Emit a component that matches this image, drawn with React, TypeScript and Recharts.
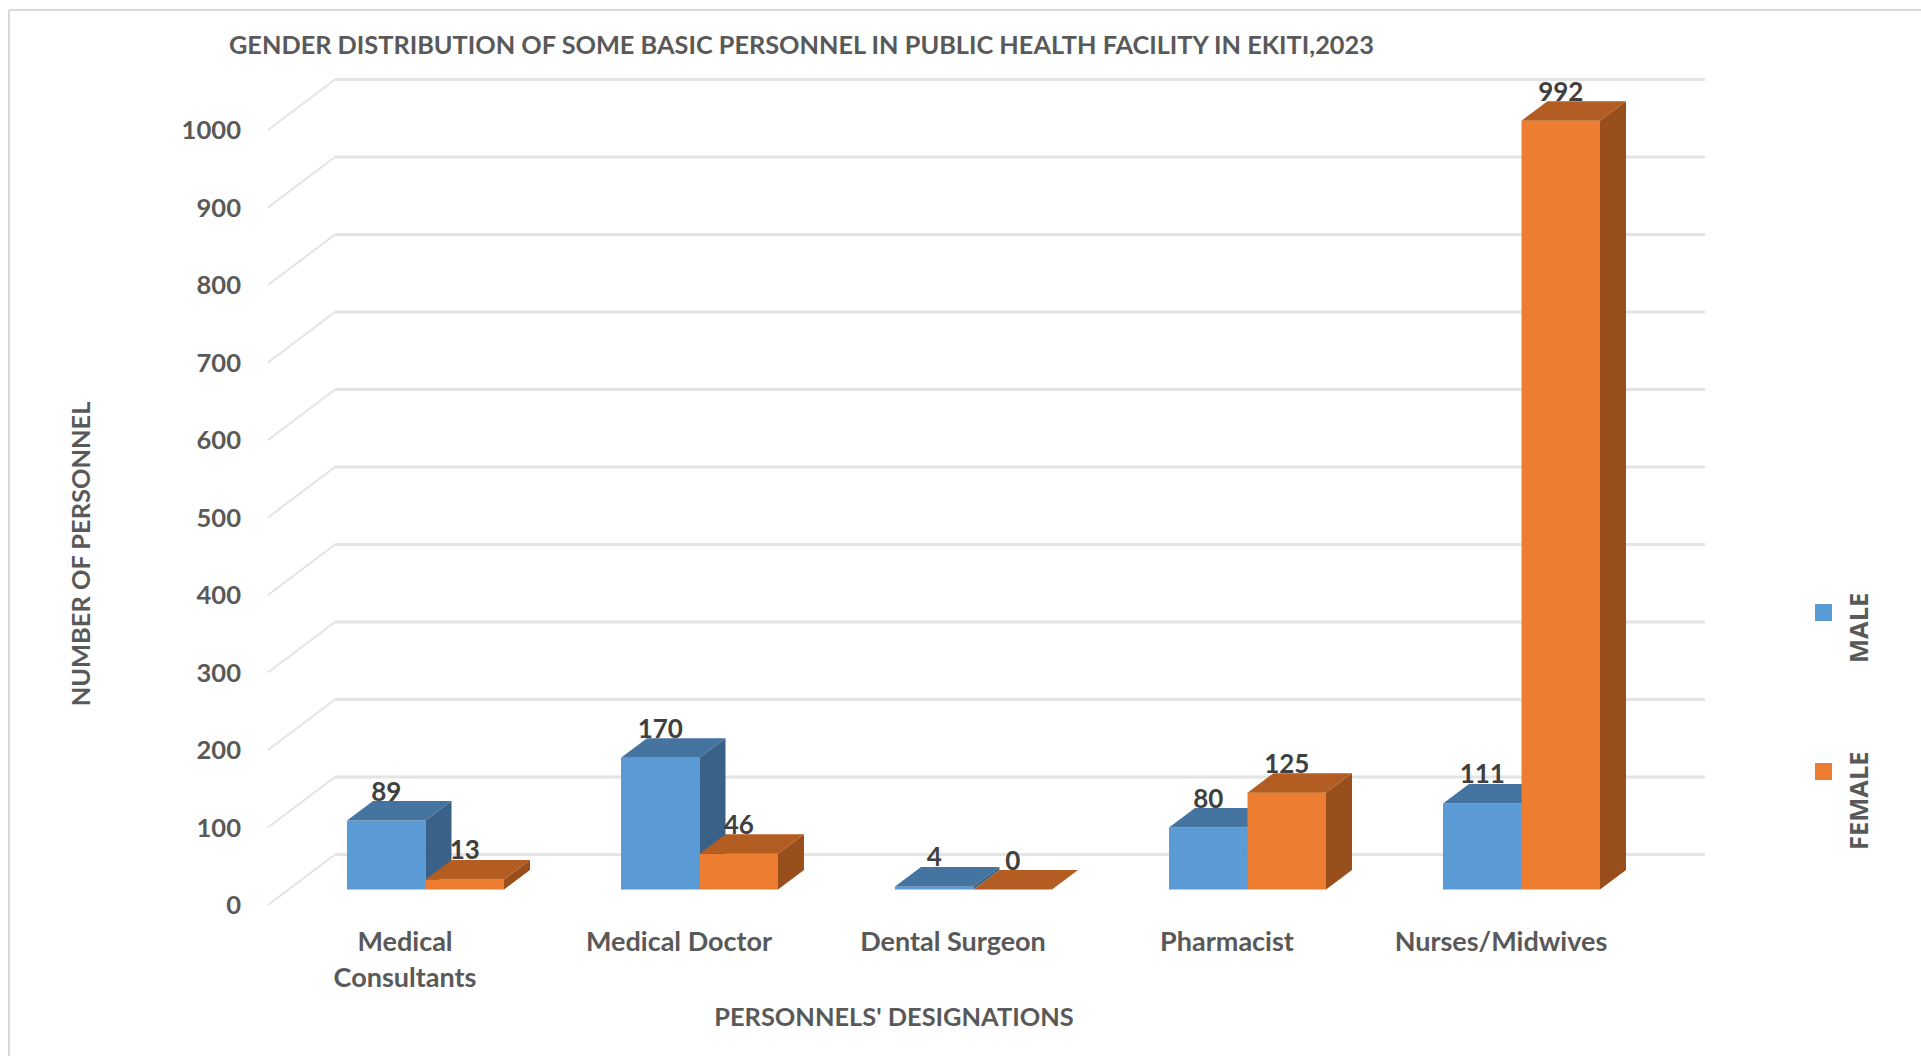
import React from 'react';
import { BarChart, Bar, XAxis, YAxis, CartesianGrid, Legend, LabelList } from 'recharts';

const categories = ['Medical\nConsultants', 'Medical Doctor', 'Dental Surgeon', 'Pharmacist', 'Nurses/Midwives'];
const maleValues = [89, 170, 4, 80, 111];
const femaleValues = [13, 46, 0, 125, 992];
const yTicks = [0, 100, 200, 300, 400, 500, 600, 700, 800, 900, 1000];

const chartData = categories.map((name, i) => ({ name, male: maleValues[i], female: femaleValues[i] }));

const FONT = 'Lato, sans-serif';
const TEXT = '#595959';

// floor depth of the fake 3D box
const WALL_DX = 67;
const WALL_DY = 50.5;
const BAR_DX = 20;
const BAR_DY = 15.5;
const SIDE_DX = 26;
const SIDE_DY = 19.5;

const make3dBar = (front: string, top: string, side: string) => (props: any) => {
  const x = props.x + BAR_DX;
  const y = props.y - BAR_DY;
  const w = props.width;
  const h = props.height;
  return (
    <g>
      <rect x={x} y={y} width={w} height={h} fill={front} />
      <polygon points={`${x},${y} ${x + SIDE_DX},${y - SIDE_DY} ${x + w + SIDE_DX},${y - SIDE_DY} ${x + w},${y}`} fill={top} />
      <polygon points={`${x + w},${y} ${x + w + SIDE_DX},${y - SIDE_DY} ${x + w + SIDE_DX},${y + h - SIDE_DY} ${x + w},${y + h}`} fill={side} />
    </g>
  );
};

const GridLine = (props: any) => {
  const { x1, x2, y1 } = props;
  return (
    <g>
      <line x1={x1} y1={y1} x2={x1 + WALL_DX} y2={y1 - WALL_DY} stroke="#E4E4E4" strokeWidth={2} />
      <line x1={x1 + WALL_DX} y1={y1 - WALL_DY} x2={x2 + WALL_DX} y2={y1 - WALL_DY} stroke="#E4E4E4" strokeWidth={3} />
    </g>
  );
};

const CategoryTick = (props: any) => {
  const lines = String(props.payload.value).split('\n');
  return (
    <text x={props.x} y={951} textAnchor="middle" fontFamily={FONT} fontWeight={700} fontSize={27} fill={TEXT}>
      {lines.map((line, i) => (
        <tspan key={line} x={props.x} dy={i === 0 ? 0 : 36}>{line}</tspan>
      ))}
    </text>
  );
};

const BarValue = (props: any) => (
  <text x={props.x + props.width / 2 + BAR_DX} y={props.y - BAR_DY - 20} textAnchor="middle" fontFamily={FONT} fontWeight={700} fontSize={26} fill="#404040">
    {props.value}
  </text>
);

const LegendBlock = (props: any) => {
  const rows: any = {
    MALE: { squareY: 604, labelY: 663 },
    FEMALE: { squareY: 763, labelY: 850 },
  };
  return (
    <svg width={1921} height={1056} style={{ position: 'absolute', left: 0, top: 0, pointerEvents: 'none' }}>
      {props.payload.map((item: any) => (
        <g key={item.value}>
          <rect x={1815} y={rows[item.value].squareY} width={17} height={17} fill={item.color} />
          <text transform={`translate(1868 ${rows[item.value].labelY}) rotate(-90)`} fontFamily="'Open Sans', sans-serif" fontWeight={700} fontSize={25.5} fill={TEXT}>
            {item.value}
          </text>
        </g>
      ))}
    </svg>
  );
};

const App = () => {
  return (
    <div style={{ position: 'absolute', left: 0, top: 0, width: 1921, height: 1056, background: '#fff', overflow: 'hidden' }}>
      <BarChart
        width={1921}
        height={1056}
        data={chartData}
        margin={{ top: 130, right: 283, bottom: 51, left: 168 }}
        barCategoryGap={58.5}
        barGap={0}
      >
        <line x1={9} y1={10} x2={1921} y2={10} stroke="#D9D9D9" strokeWidth={2} />
        <line x1={9} y1={10} x2={9} y2={1056} stroke="#D9D9D9" strokeWidth={2} />
        <text x={229} y={54} fontFamily={FONT} fontWeight={700} fontSize={25.3} fill={TEXT}>
          GENDER DISTRIBUTION OF SOME BASIC PERSONNEL IN PUBLIC HEALTH FACILITY IN EKITI,2023
        </text>
        <text x={894} y={1026} textAnchor="middle" fontFamily={FONT} fontWeight={700} fontSize={25.4} fill={TEXT}>
          PERSONNELS' DESIGNATIONS
        </text>
        <text transform="translate(90 554) rotate(-90)" textAnchor="middle" fontFamily={FONT} fontWeight={700} fontSize={25.4} fill={TEXT}>
          NUMBER OF PERSONNEL
        </text>
        <CartesianGrid vertical={false} horizontal={(p: any) => <GridLine {...p} />} />
        <XAxis dataKey="name" height={100} axisLine={false} tickLine={false} interval={0} tick={(p: any) => <CategoryTick {...p} />} />
        <YAxis
          width={100}
          domain={[0, 1000]}
          ticks={yTicks}
          interval={0}
          axisLine={false}
          tickLine={false}
          tickSize={0}
          tickMargin={27}
          tick={{ fontFamily: FONT, fontWeight: 700, fontSize: 25.6, fill: TEXT }}
        />
        <Legend content={(p: any) => <LegendBlock {...p} />} wrapperStyle={{ position: 'absolute', left: 0, top: 0, width: 0, height: 0, overflow: 'visible', pointerEvents: 'none' }} />
        <Bar dataKey="male" name="MALE" fill="#5B9BD5" barSize={78.5} isAnimationActive={false} shape={make3dBar('#5B9BD5', '#4674A0', '#3A6289')}>
          <LabelList dataKey="male" content={(p: any) => <BarValue {...p} />} />
        </Bar>
        <Bar dataKey="female" name="FEMALE" fill="#ED7D31" barSize={78.5} isAnimationActive={false} shape={make3dBar('#ED7D31', '#B35D22', '#994F1C')}>
          <LabelList dataKey="female" content={(p: any) => <BarValue {...p} />} />
        </Bar>
      </BarChart>
    </div>
  );
};

export default App;
